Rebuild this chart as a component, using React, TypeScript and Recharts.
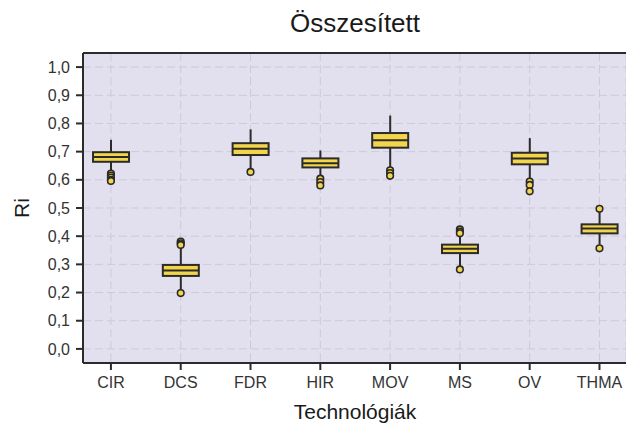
import React from 'react';
import { ComposedChart, Bar, Scatter, XAxis, YAxis, CartesianGrid, ReferenceLine } from 'recharts';

const categories = ['CIR', 'DCS', 'FDR', 'HIR', 'MOV', 'MS', 'OV', 'THMA'];
const whiskerLow = [0.628, 0.208, 0.638, 0.608, 0.64, 0.292, 0.6, 0.37];
const q1 = [0.664, 0.259, 0.688, 0.644, 0.714, 0.34, 0.655, 0.41];
const median = [0.681, 0.278, 0.71, 0.659, 0.74, 0.355, 0.676, 0.427];
const q3 = [0.698, 0.298, 0.73, 0.676, 0.766, 0.37, 0.696, 0.442];
const whiskerHigh = [0.742, 0.361, 0.779, 0.704, 0.828, 0.404, 0.748, 0.487];
const outliers: number[][] = [
  [0.622, 0.615, 0.608, 0.6, 0.596],
  [0.381, 0.375, 0.369, 0.198],
  [0.628],
  [0.604, 0.592, 0.58],
  [0.634, 0.624, 0.614],
  [0.424, 0.416, 0.41, 0.282],
  [0.594, 0.582, 0.559],
  [0.497, 0.357],
];
const yTicks = [0, 0.1, 0.2, 0.3, 0.4, 0.5, 0.6, 0.7, 0.8, 0.9, 1.0];
const xTicks = categories.map((_, i) => i);

const boxData = categories.map((name, i) => ({
  x: i,
  name,
  whisker: [whiskerLow[i], whiskerHigh[i]],
  lo: whiskerLow[i],
  q1: q1[i],
  med: median[i],
  q3: q3[i],
  hi: whiskerHigh[i],
}));

const outlierData = outliers.flatMap((vals, i) => vals.map((v) => ({ x: i, v })));

const FILL = '#F3D54B';
const DARK = '#2b2b2b';

const BoxShape = (props: any) => {
  const { x, y, width, height, payload } = props;
  if (payload == null || height == null) return null;
  const { lo, hi } = payload;
  const px = (v: number) => y + (height * (hi - v)) / (hi - lo);
  const cx = x + width / 2;
  const top = px(payload.q3);
  const bot = px(payload.q1);
  return (
    <g>
      <line x1={cx} x2={cx} y1={px(hi)} y2={top} stroke={DARK} strokeWidth={2} />
      <line x1={cx} x2={cx} y1={bot} y2={px(lo)} stroke={DARK} strokeWidth={2} />
      <rect x={x} y={top} width={width} height={bot - top} fill={FILL} stroke={DARK} strokeWidth={2} />
      <line x1={x} x2={x + width} y1={px(payload.med)} y2={px(payload.med)} stroke={DARK} strokeWidth={2} />
    </g>
  );
};

const OutlierShape = (props: any) => {
  const { cx, cy } = props;
  if (cx == null || cy == null) return null;
  return <circle cx={cx} cy={cy} r={3.3} fill={FILL} stroke={DARK} strokeWidth={1.6} />;
};

const font = '"Liberation Sans", Arial, sans-serif';

export default function App() {
  return (
    <div style={{ position: 'absolute', left: 0, top: 0, width: 626, height: 427, background: '#fff', overflow: 'hidden', fontFamily: font }}>
      <ComposedChart
        width={626}
        height={427}
        data={boxData}
        margin={{ top: 53, right: 0, bottom: 0, left: 0 }}
      >
        <CartesianGrid fill="#E2DFEE" stroke="#CDC9DB" strokeDasharray="8 4" strokeWidth={1} />
        <XAxis
          dataKey="x"
          type="number"
          domain={[-0.4, 7.38]}
          allowDataOverflow
          ticks={xTicks}
          tickFormatter={(v: number) => categories[v] ?? ''}
          height={64}
          tickSize={7}
          tickMargin={7}
          axisLine={{ stroke: DARK, strokeWidth: 2 }}
          tickLine={{ stroke: DARK, strokeWidth: 2 }}
          tick={{ fill: '#333', fontSize: 16, fontFamily: font }}
        />
        <YAxis
          type="number"
          domain={[-0.05, 1.05]}
          allowDataOverflow
          ticks={yTicks}
          tickFormatter={(v: number) => v.toFixed(1).replace('.', ',')}
          width={83}
          tickSize={7}
          tickMargin={6}
          axisLine={{ stroke: DARK, strokeWidth: 2 }}
          tickLine={{ stroke: DARK, strokeWidth: 2 }}
          tick={{ fill: '#333', fontSize: 16, fontFamily: font }}
        />
        <ReferenceLine y={1.05} stroke={DARK} strokeWidth={2} ifOverflow="extendDomain" />
        <Bar dataKey="whisker" barSize={36} shape={<BoxShape />} isAnimationActive={false} />
        <Scatter data={outlierData} dataKey="v" shape={<OutlierShape />} isAnimationActive={false} />
      </ComposedChart>
      <svg width={626} height={427} style={{ position: 'absolute', left: 0, top: 0, pointerEvents: 'none' }}>
        <text x={355} y={32} textAnchor="middle" fontSize={26} fill="#1a1a1a" fontFamily={font}>Összesített</text>
        <text x={355} y={419} textAnchor="middle" fontSize={21} fill="#1a1a1a" fontFamily={font}>Technológiák</text>
        <text x={29} y={208} textAnchor="middle" fontSize={21} fill="#1a1a1a" fontFamily={font} transform="rotate(-90 29 208)">Ri</text>
      </svg>
    </div>
  );
}
